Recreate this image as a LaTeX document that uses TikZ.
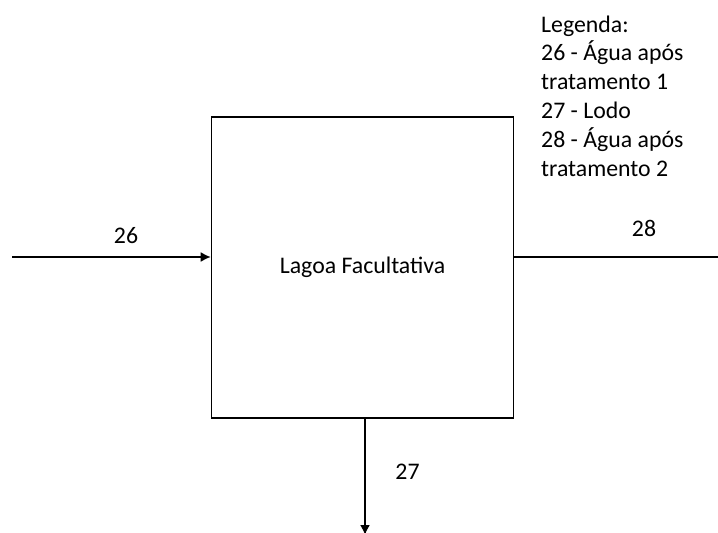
\documentclass[tikz,border=0pt]{standalone}
\usepackage{fontspec}
\setmainfont{Carlito}
\usetikzlibrary{arrows.meta}
\begin{document}
\begin{tikzpicture}[x=1pt,y=-1pt,
  txt/.style={font=\fontsize{23.8}{28.8}\selectfont},
  flow/.style={line width=1.6pt},
  tip/.style={-{Latex[length=10pt,width=10pt]}},
  lbl/.style={txt,inner sep=0pt,anchor=base}]
\useasboundingbox (0,0) rectangle (718,533);
% pond unit
\node[draw,flow,txt,minimum width=302pt,minimum height=301pt,inner sep=0pt]
  (lagoa) at (362.5,267.5) {Lagoa Facultativa};
% stream ends
\coordinate (in) at (12,257);
\coordinate (out) at (718,257);
\coordinate (down) at (365,535);
\draw[flow,tip] (in) -- (in -| lagoa.west);
\draw[flow] (lagoa.east |- out) -- (out);
\draw[flow,tip] (down |- lagoa.south) -- (down);
% stream numbers
\node[lbl] (s26) at (126,243) {26};
\node[lbl] (s28) at (644,236) {28};
\node[lbl] (s27) at (407.5,479) {27};
% legend (base anchor sits on the last line)
\node[txt,inner sep=0pt,anchor=base west,align=left] (legenda) at (541,176)
  {Legenda:\\26 - Água após\\tratamento 1\\27 - Lodo\\28 - Água após\\tratamento 2};
\end{tikzpicture}
\end{document}
